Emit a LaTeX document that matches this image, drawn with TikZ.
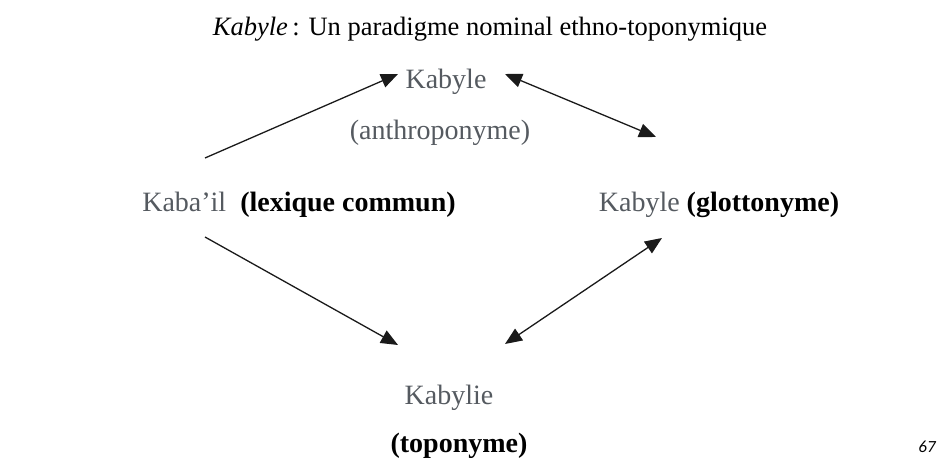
\documentclass[tikz,border=0pt]{standalone}
\usepackage{fontspec}
\setmainfont{Liberation Serif}[BoldFont={Liberation Serif Bold},ItalicFont={Liberation Serif Italic},BoldItalicFont={Liberation Serif Bold Italic}]
\newfontfamily\pagenumfont{Carlito}
\usetikzlibrary{arrows.meta}
\definecolor{lightink}{HTML}{555A60}
\definecolor{darkink}{HTML}{1A1A1A}
\tikzset{
  lbl/.style={inner sep=0pt, anchor=center, font=\fontsize{28}{32}\selectfont},
  grey/.style={lbl, text=lightink},
  arr/.style={draw=darkink, line width=1.3pt, -{Triangle[length=17pt,width=14pt]}},
  darr/.style={draw=darkink, line width=1.3pt, {Triangle[length=17pt,width=14pt]}-{Triangle[length=17pt,width=14pt]}}
}
\begin{document}
\begin{tikzpicture}[x=1pt,y=-1pt]
\useasboundingbox (0,0) rectangle (938,462);
\node[inner sep=0pt, font=\fontsize{26.5}{30}\selectfont] (title) at (490,29) {\textit{Kabyle}\,: Un paradigme nominal ethno-toponymique};
\node[grey] (kab) at (446,82) {Kabyle};
\node[grey] (anth) at (440,133) {(anthroponyme)};
\node[lbl] (lex) at (299,205) {\textcolor{lightink}{Kaba'il}\ \ \textbf{(lexique commun)}};
\node[lbl] (glot) at (719,205) {\textcolor{lightink}{Kabyle} \textbf{(glottonyme)}};
\node[grey] (kabylie) at (449,398) {Kabylie};
\node[lbl] (topo) at (459,446) {\textbf{(toponyme)}};
\node[inner sep=0pt, font=\pagenumfont\itshape\fontsize{17}{20}\selectfont] (pg) at (927,447) {67};
\coordinate (a1s) at (205,158);
\coordinate (a1e) at (398,74);
\coordinate (a2s) at (505,74);
\coordinate (a2e) at (656,137);
\coordinate (a3s) at (205,237);
\coordinate (a3e) at (398,345);
\coordinate (a4s) at (662,238);
\coordinate (a4e) at (505,344);
\draw[arr] (a1s) -- (a1e);
\draw[darr] (a2s) -- (a2e);
\draw[arr] (a3s) -- (a3e);
\draw[darr] (a4s) -- (a4e);
\end{tikzpicture}
\end{document}
